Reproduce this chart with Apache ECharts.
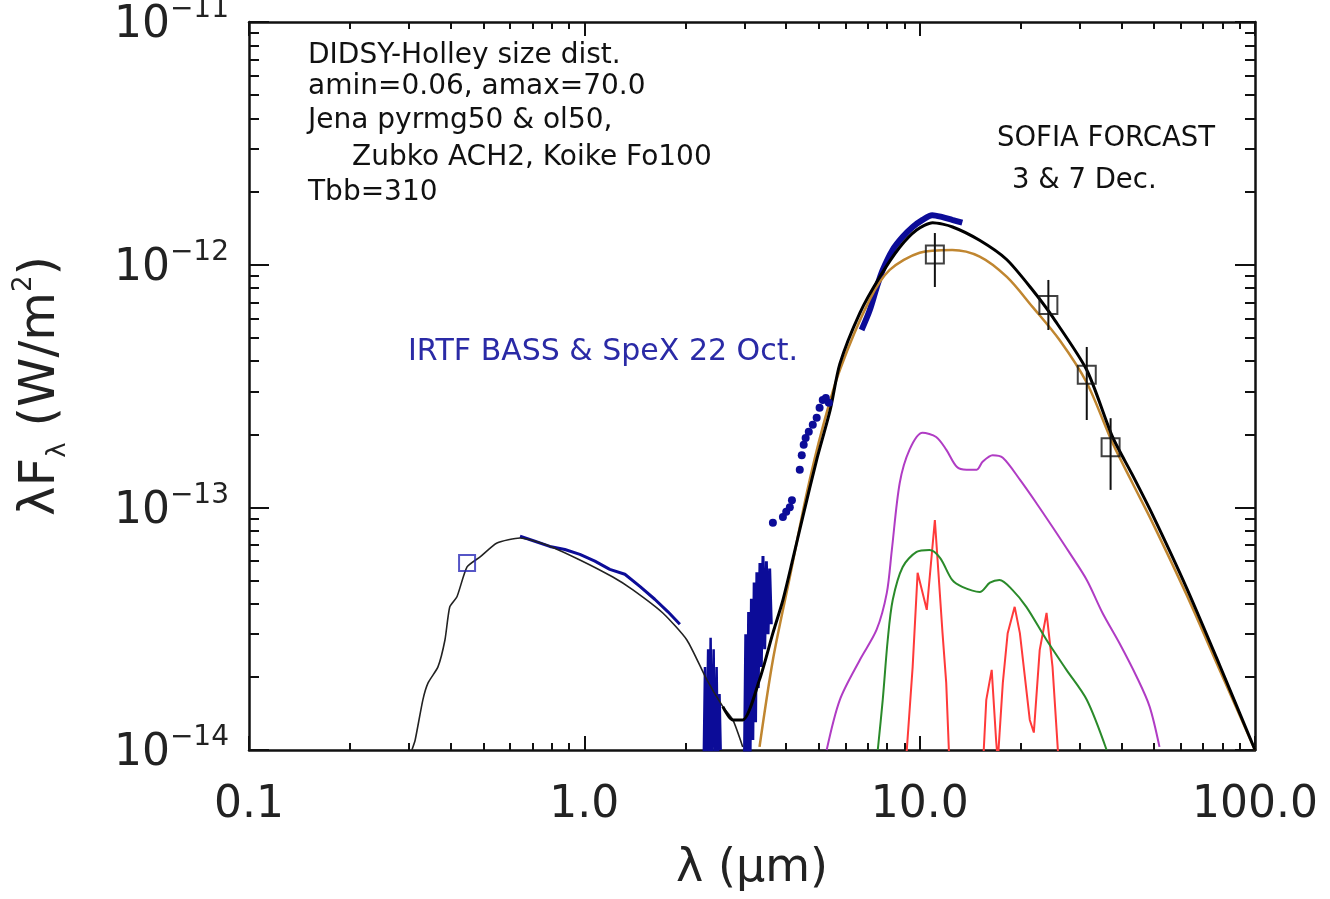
<!DOCTYPE html>
<html><head><meta charset="utf-8">
<script src="https://cdn.jsdelivr.net/npm/echarts@6/dist/echarts.min.js"></script>
<style>html,body{margin:0;padding:0;background:#fff}#c{width:1330px;height:899px}</style>
</head><body><div id="c"></div>
<script>
// ---------- tick positions & labels ----------
const xMajor = [0.1, 1, 10, 100];
const xTickLabels = ['0.1', '1.0', '10.0', '100.0'];
const xMinor = [0.2,0.3,0.4,0.5,0.6,0.7,0.8,0.9,2,3,4,5,6,7,8,9,20,30,40,50,60,70,80,90];
const yMajor = [1e-14, 1e-13, 1e-12, 1e-11];
const yTickExp = ['−14', '−13', '−12', '−11'];
const yMinor = [2e-14,3e-14,4e-14,5e-14,6e-14,7e-14,8e-14,9e-14,2e-13,3e-13,4e-13,5e-13,6e-13,7e-13,8e-13,9e-13,2e-12,3e-12,4e-12,5e-12,6e-12,7e-12,8e-12,9e-12];

// ---------- model curves (wavelength in µm, λFλ in W/m²) ----------
const stellarX = [0.306,0.313,0.330,0.342,0.366,0.384,0.397,0.417,0.447,0.489,0.549,0.643,0.773,0.970,1.216,1.396,1.714,2.022,2.318,2.588,2.773,2.967];
const stellarY = [1.0e-14,1.10e-14,1.61e-14,1.89e-14,2.20e-14,2.84e-14,3.89e-14,4.28e-14,5.68e-14,6.25e-14,7.13e-14,7.48e-14,7.00e-14,6.07e-14,5.16e-14,4.57e-14,3.67e-14,2.84e-14,1.95e-14,1.51e-14,1.33e-14,1.03e-14];

const totalX = [2.588,2.773,2.967,3.33,3.65,3.91,4.18,4.48,4.93,5.41,5.78,6.63,7.60,8.72,9.79,10.93,12.54,15.09,18.17,21.71,24.91,31.5,37.6,43.1,49.5,62.5,78.4,100];
const totalY = [1.51e-14,1.33e-14,1.33e-14,1.95e-14,3.03e-14,4.15e-14,6.07e-14,9.12e-14,1.57e-13,2.52e-13,3.90e-13,6.32e-13,8.90e-13,1.18e-12,1.39e-12,1.49e-12,1.43e-12,1.26e-12,1.05e-12,7.86e-13,6.09e-13,3.68e-13,1.95e-13,1.36e-13,9.31e-14,4.66e-14,2.24e-14,1.0e-14];

const thermalX = [3.33,3.65,4.10,4.61,5.14,5.78,7.09,8.14,10.0,12.5,15.1,18.2,21.7,26.1,31.5,37.6,43.1,49.5,62.5,78.4,100];
const thermalY = [1.03e-14,2.35e-14,5.16e-14,1.15e-13,2.14e-13,3.68e-13,7.16e-13,9.51e-13,1.12e-12,1.15e-12,1.08e-12,8.90e-13,6.70e-13,4.90e-13,3.26e-13,1.84e-13,1.26e-13,8.63e-14,4.36e-14,2.14e-14,1.0e-14];

const purpleX = [5.28,5.78,6.63,7.44,7.98,8.26,8.72,9.33,10.2,11.2,12.0,12.9,13.8,14.8,15.4,16.5,17.7,19.9,22.3,24.9,28.0,31.5,35.1,39.4,44.4,48.5,51.9];
const purpleY = [1.0e-14,1.61e-14,2.35e-14,3.13e-14,4.44e-14,6.67e-14,1.26e-13,1.73e-13,2.03e-13,1.95e-13,1.73e-13,1.47e-13,1.43e-13,1.43e-13,1.54e-13,1.64e-13,1.60e-13,1.30e-13,1.04e-13,8.30e-14,6.49e-14,5.02e-14,3.67e-14,2.76e-14,2.00e-14,1.51e-14,1.03e-14];

const greenX = [7.50,7.76,8.03,8.31,8.90,9.79,10.7,11.5,12.5,13.4,15.1,16.2,17.3,18.9,20.8,23.9,27.4,31.5,36.1];
const greenY = [1.0e-14,1.61e-14,2.84e-14,4.15e-14,5.68e-14,6.55e-14,6.67e-14,6.19e-14,5.02e-14,4.70e-14,4.48e-14,4.89e-14,5.02e-14,4.57e-14,3.89e-14,2.84e-14,2.14e-14,1.61e-14,1.0e-14];

const redX = [9.05,9.53,9.86,10.5,11.1,11.7,12.0,12.3,15.4,15.8,16.4,16.9,17.1,17.7,18.3,19.2,19.9,21.3,21.9,22.8,23.9,24.9,26.1];
const redY = [8e-15,2.20e-14,5.37e-14,3.78e-14,8.87e-14,3.03e-14,1.89e-14,8e-15,8e-15,1.61e-14,2.14e-14,1.10e-14,9e-15,1.89e-14,3.03e-14,3.89e-14,3.03e-14,1.33e-14,1.18e-14,2.58e-14,3.67e-14,2.20e-14,8e-15];

// ---------- IRTF BASS & SpeX spectrum (blue) ----------
const irtfOptX = [0.643,0.712,0.789,0.875,0.970,1.075,1.191,1.321,1.464,1.622,1.773,1.927];
const irtfOptY = [7.60e-14,7.25e-14,6.90e-14,6.70e-14,6.40e-14,6.00e-14,5.55e-14,5.30e-14,4.72e-14,4.18e-14,3.72e-14,3.30e-14];
const irtfNoiseAX = [2.27,2.29,2.31,2.34,2.36,2.38,2.40,2.43,2.45,2.48,2.50,2.53,2.55];
const irtfNoiseAY = [9e-15,2.2e-14,8e-15,2.6e-14,8e-15,2.9e-14,9e-15,2.6e-14,8e-15,2.2e-14,9e-15,1.7e-14,1.0e-14];
const irtfNoiseBX = [3.00,3.03,3.06,3.09,3.12,3.15,3.18,3.21,3.24,3.27,3.30,3.34,3.37,3.41,3.45,3.49,3.53,3.57,3.61];
const irtfNoiseBY = [8e-15,3.0e-14,8e-15,3.7e-14,9e-15,4.2e-14,1.1e-14,4.9e-14,1.3e-14,5.4e-14,1.8e-14,5.9e-14,2.2e-14,6.3e-14,2.6e-14,6.0e-14,3.0e-14,5.6e-14,3.3e-14];
const irtfFlankX = [3.65,3.91,4.00,4.10,4.16,4.39,4.45,4.51,4.57,4.67,4.80,4.93,5.03,5.14,5.25,5.36];
const irtfFlankY = [8.63e-14,9.12e-14,9.6e-14,1.00e-13,1.07e-13,1.43e-13,1.64e-13,1.81e-13,1.93e-13,2.05e-13,2.19e-13,2.34e-13,2.57e-13,2.77e-13,2.82e-13,2.70e-13];
const irtfPeakX = [6.71,7.10,7.45,7.76,8.30,8.89,9.53,10.2,10.9,11.7,12.5,13.4];
const irtfPeakY = [5.38e-13,6.50e-13,8.09e-13,9.51e-13,1.15e-12,1.30e-12,1.43e-12,1.53e-12,1.60e-12,1.57e-12,1.53e-12,1.49e-12];
const irtfPhotX = [0.447];
const irtfPhotY = [5.90e-14];

// ---------- SOFIA FORCAST photometry ----------
const sofiaX = [11.1, 24.2, 31.5, 37.1];
const sofiaY = [1.10e-12, 6.82e-13, 3.52e-13, 1.77e-13];
const sofiaLo = [8.09e-13, 5.38e-13, 2.29e-13, 1.18e-13];
const sofiaHi = [1.35e-12, 8.65e-13, 4.58e-13, 2.33e-13];

// ---------- build ----------
const zip = (a, b) => a.map((v, i) => [v, b[i]]);
const FONT = 'DejaVu Sans';
const BLUE = '#0c0c98';
const INK = '#222';

function nearest(arr, v) {
  let best = 0, d = 1e9;
  arr.forEach((m, i) => { const dd = Math.abs(Math.log10(m) - Math.log10(v)); if (dd < d) { d = dd; best = i; } });
  return best;
}
function xLabel(v) { return xTickLabels[nearest(xMajor, v)]; }
function yLabel(v) { return '{b|10}{s|' + yTickExp[nearest(yMajor, v)] + '}'; }

const axLine = { show: true, onZero: false, lineStyle: { color: '#111', width: 2.5 } };
function xAx(pos, ticks, len, labels, extra) {
  return Object.assign({
    type: 'log', logBase: 10, min: 0.1, max: 100, position: pos, gridIndex: 0,
    splitLine: { show: false }, minorTick: { show: false },
    axisLine: axLine,
    axisTick: { show: true, inside: true, length: len, customValues: ticks, lineStyle: { color: '#111', width: 2 } },
    axisLabel: labels
      ? { show: true, customValues: xMajor, formatter: xLabel, margin: 34, fontSize: 44, fontFamily: FONT, color: INK }
      : { show: false }
  }, extra || {});
}
function yAx(pos, ticks, len, labels, extra) {
  return Object.assign({
    type: 'log', logBase: 10, min: 1e-14, max: 1e-11, position: pos, gridIndex: 0,
    splitLine: { show: false }, minorTick: { show: false },
    axisLine: axLine,
    axisTick: { show: true, inside: true, length: len, customValues: ticks, lineStyle: { color: '#111', width: 2 } },
    axisLabel: labels
      ? { show: true, customValues: yMajor, formatter: yLabel, margin: 20, fontFamily: FONT, color: INK,
          rich: { b: { fontSize: 44, fontFamily: FONT, color: INK, lineHeight: 52, verticalAlign: 'bottom' },
                  s: { fontSize: 28, fontFamily: FONT, color: INK, lineHeight: 52, verticalAlign: 'top' } } }
      : { show: false }
  }, extra || {});
}

function lineS(name, x, y, color, width, extra) {
  return Object.assign({
    name, type: 'line', data: zip(x, y), xAxisIndex: 0, yAxisIndex: 0,
    showSymbol: false, symbol: 'none', smooth: false, clip: true,
    lineStyle: { color, width }, itemStyle: { color }, z: 3
  }, extra || {});
}

const chart = echarts.init(document.getElementById('c'), null, { renderer: 'canvas' });
chart.setOption({
  animation: false,
  backgroundColor: '#fff',
  grid: { left: 249, right: 75, top: 22, bottom: 149, containLabel: false, outerBoundsMode: 'none' },
  xAxis: [
    xAx('bottom', xMajor, 14, true, {
      name: 'λ (μm)', nameLocation: 'middle', nameGap: 96,
      nameTextStyle: { fontSize: 46, fontFamily: FONT, color: INK }
    }),
    xAx('bottom', xMinor, 7, false, { axisLine: { show: false } }),
    xAx('top', xMajor, 14, false),
    xAx('top', xMinor, 7, false, { axisLine: { show: false } })
  ],
  yAxis: [
    yAx('left', yMajor, 20, true, {
      name: '{a|λF}{sub|λ}{a| (W/m}{sup|2}{a|)}', nameLocation: 'middle', nameGap: 178, nameRotate: 90,
      nameTextStyle: { fontFamily: FONT, color: INK,
        rich: { a: { fontSize: 50, fontFamily: FONT, color: INK, lineHeight: 60, verticalAlign: 'middle' },
                sub: { fontSize: 26, fontFamily: FONT, color: INK, lineHeight: 60, verticalAlign: 'bottom' },
                sup: { fontSize: 26, fontFamily: FONT, color: INK, lineHeight: 60, verticalAlign: 'top' } } }
    }),
    yAx('left', yMinor, 10, false, { axisLine: { show: false } }),
    yAx('right', yMajor, 20, false),
    yAx('right', yMinor, 10, false, { axisLine: { show: false } })
  ],
  series: [
    lineS('IRTF optical', irtfOptX, irtfOptY, BLUE, 3),
    lineS('IRTF noise 2.4', irtfNoiseAX, irtfNoiseAY, BLUE, 2.5),
    lineS('IRTF noise 3.2', irtfNoiseBX, irtfNoiseBY, BLUE, 3),
    lineS('IRTF peak', irtfPeakX, irtfPeakY, BLUE, 6, { smooth: 0.3 }),
    { name: 'IRTF flank', type: 'scatter', data: zip(irtfFlankX, irtfFlankY), symbol: 'circle', symbolSize: 8,
      itemStyle: { color: BLUE, opacity: 1 }, z: 3 },
    { name: 'IRTF phot', type: 'scatter', data: zip(irtfPhotX, irtfPhotY), symbol: 'rect', symbolSize: 16,
      itemStyle: { color: 'rgba(0,0,0,0)', borderColor: '#2a2ab8', borderWidth: 2 }, z: 4 },
    lineS('stellar', stellarX, stellarY, '#222', 1.6, { smooth: 0.2 }),
    lineS('red', redX, redY, '#ff3a3a', 2),
    lineS('green', greenX, greenY, '#2a8a2a', 2, { smooth: 0.3 }),
    lineS('purple', purpleX, purpleY, '#b03cc4', 2, { smooth: 0.3 }),
    lineS('thermal', thermalX, thermalY, '#c08630', 2.5, { smooth: 0.3 }),
    lineS('total', totalX, totalY, '#000', 3, { smooth: 0.25 }),
    { name: 'SOFIA err', type: 'custom', xAxisIndex: 0, yAxisIndex: 0, z: 5,
      data: sofiaX.map((x, i) => [x, sofiaLo[i], sofiaHi[i]]),
      encode: { x: 0, y: [1, 2] },
      renderItem: function (params, api) {
        const p1 = api.coord([api.value(0), api.value(1)]);
        const p2 = api.coord([api.value(0), api.value(2)]);
        return { type: 'line', shape: { x1: p1[0], y1: p1[1], x2: p2[0], y2: p2[1] },
                 style: { stroke: '#111', lineWidth: 2 } };
      } },
    { name: 'SOFIA', type: 'scatter', data: zip(sofiaX, sofiaY), symbol: 'rect', symbolSize: 18,
      itemStyle: { color: 'rgba(0,0,0,0)', borderColor: '#111', borderWidth: 2 }, z: 6 }
  ],
  graphic: [
    { type: 'text', left: 308, top: 42, style: { text: 'DIDSY-Holley size dist.', fontSize: 28, fontFamily: FONT, fill: '#111' } },
    { type: 'text', left: 308, top: 73, style: { text: 'amin=0.06, amax=70.0', fontSize: 28, fontFamily: FONT, fill: '#111' } },
    { type: 'text', left: 308, top: 107, style: { text: 'Jena pyrmg50 & ol50,', fontSize: 28, fontFamily: FONT, fill: '#111' } },
    { type: 'text', left: 352, top: 144, style: { text: 'Zubko ACH2, Koike Fo100', fontSize: 28, fontFamily: FONT, fill: '#111' } },
    { type: 'text', left: 308, top: 179, style: { text: 'Tbb=310', fontSize: 28, fontFamily: FONT, fill: '#111' } },
    { type: 'text', left: 997, top: 125, style: { text: 'SOFIA FORCAST', fontSize: 27.5, fontFamily: FONT, fill: '#111' } },
    { type: 'text', left: 1012, top: 167, style: { text: '3 & 7 Dec.', fontSize: 27.5, fontFamily: FONT, fill: '#111' } },
    { type: 'text', left: 408, top: 337, style: { text: 'IRTF BASS & SpeX 22 Oct.', fontSize: 30, fontFamily: FONT, fill: '#2a2aa6' } }
  ]
});
</script></body></html>
